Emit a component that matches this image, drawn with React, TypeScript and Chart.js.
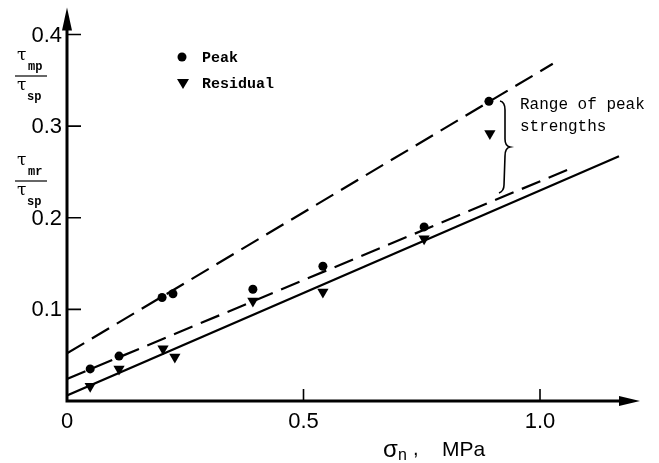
import React, { useEffect, useRef } from "react";
import { Chart, registerables } from "chart.js";
Chart.register(...registerables);

// Peak strengths (circles)
const peakX = [0.049, 0.11, 0.201, 0.224, 0.393, 0.541, 0.755, 0.892];
const peakY = [0.035, 0.049, 0.113, 0.117, 0.122, 0.147, 0.19, 0.327];
// Residual strengths (down triangles)
const resX = [0.049, 0.11, 0.203, 0.228, 0.393, 0.541, 0.755, 0.894];
const resY = [0.016, 0.035, 0.057, 0.048, 0.109, 0.119, 0.177, 0.292];
// Fitted lines (end points)
const upperDashX = [0, 1.027];
const upperDashY = [0.052, 0.368];
const midDashX = [0, 1.066];
const midDashY = [0.024, 0.254];
const solidX = [0, 1.167];
const solidY = [0.006, 0.267];
// Ticks
const xTicks = [0, 0.5, 1.0];
const xTickLabels = ["0", "0.5", "1.0"];
const yTicks = [0.1, 0.2, 0.3, 0.4];
const yTickLabels = ["0.1", "0.2", "0.3", "0.4"];
const legendLabels = ["Peak", "Residual"];
const noteLines = ["Range of peak", "strengths"];

const toPts = (xs: number[], ys: number[]) => xs.map((x, i) => ({ x, y: ys[i] }));

const decorPlugin = {
  id: "decor",
  beforeDatasetsDraw(chart: any) {
    const ctx = chart.ctx as CanvasRenderingContext2D;
    const xs = chart.scales.x;
    const ys = chart.scales.y;
    const x0 = xs.getPixelForValue(0);
    const y0 = ys.getPixelForValue(0);
    const top = chart.chartArea.top;
    const right = chart.chartArea.right;
    ctx.save();
    ctx.strokeStyle = "#000";
    ctx.fillStyle = "#000";
    // axes
    ctx.lineWidth = 3;
    ctx.beginPath();
    ctx.moveTo(x0, y0);
    ctx.lineTo(x0, top + 18);
    ctx.moveTo(x0 - 1.5, y0);
    ctx.lineTo(right - 16, y0);
    ctx.stroke();
    // arrow heads
    ctx.beginPath();
    ctx.moveTo(x0, top + 1);
    ctx.lineTo(x0 - 5, top + 24);
    ctx.lineTo(x0 + 5, top + 24);
    ctx.closePath();
    ctx.fill();
    ctx.beginPath();
    ctx.moveTo(right, y0);
    ctx.lineTo(right - 21, y0 - 5);
    ctx.lineTo(right - 21, y0 + 5);
    ctx.closePath();
    ctx.fill();
    // ticks (inward)
    ctx.lineWidth = 1.6;
    ctx.beginPath();
    yTicks.forEach((v) => {
      const py = ys.getPixelForValue(v);
      ctx.moveTo(x0, py);
      ctx.lineTo(x0 + 14, py);
    });
    xTicks.forEach((v) => {
      if (v === 0) return;
      const px = xs.getPixelForValue(v);
      ctx.moveTo(px, y0);
      ctx.lineTo(px, y0 - 12);
    });
    ctx.stroke();
    ctx.restore();
  },
  afterDraw(chart: any) {
    const ctx = chart.ctx as CanvasRenderingContext2D;
    const xs = chart.scales.x;
    const ys = chart.scales.y;
    const x0 = xs.getPixelForValue(0);
    const y0 = ys.getPixelForValue(0);
    ctx.save();
    ctx.fillStyle = "#000";
    ctx.strokeStyle = "#000";
    // tick labels
    ctx.font = "22px 'Liberation Sans', Arial, sans-serif";
    ctx.textBaseline = "middle";
    ctx.textAlign = "right";
    yTicks.forEach((v, i) => {
      ctx.fillText(yTickLabels[i], x0 - 5, ys.getPixelForValue(v) + 1);
    });
    ctx.textAlign = "center";
    xTicks.forEach((v, i) => {
      ctx.fillText(xTickLabels[i], xs.getPixelForValue(v), y0 + 21);
    });
    // x axis title: sigma_n, MPa
    ctx.textAlign = "left";
    ctx.font = "24px 'Liberation Sans', Arial, sans-serif";
    ctx.fillText("σ", 383, 450);
    ctx.font = "16px 'Liberation Sans', Arial, sans-serif";
    ctx.fillText("n", 398, 456);
    ctx.font = "20px 'Liberation Sans', Arial, sans-serif";
    ctx.fillText(",", 413, 449);
    ctx.font = "21px 'Liberation Sans', Arial, sans-serif";
    ctx.fillText("MPa", 442, 450);

    // y axis fraction labels
    const frac = (num: string, cy: number) => {
      ctx.font = "17px 'DejaVu Serif', serif";
      ctx.fillText("τ", 17, cy - 20);
      ctx.fillText("τ", 17, cy + 10);
      ctx.font = "bold 12px 'Liberation Mono', monospace";
      ctx.fillText(num, 28, cy - 9);
      ctx.fillText("sp", 27, cy + 21);
      ctx.lineWidth = 1.2;
      ctx.beginPath();
      ctx.moveTo(15, cy);
      ctx.lineTo(47, cy);
      ctx.stroke();
    };
    frac("mp", 76);
    frac("mr", 181);

    // legend
    ctx.beginPath();
    ctx.arc(182, 57, 4.5, 0, Math.PI * 2);
    ctx.fill();
    ctx.beginPath();
    ctx.moveTo(177, 79);
    ctx.lineTo(189, 79);
    ctx.lineTo(183, 89);
    ctx.closePath();
    ctx.fill();
    ctx.font = "bold 15px 'Liberation Mono', monospace";
    ctx.fillText(legendLabels[0], 202, 58);
    ctx.fillText(legendLabels[1], 202, 84);

    // annotation
    ctx.font = "16px 'Liberation Mono', monospace";
    ctx.fillText(noteLines[0], 520, 105);
    ctx.fillText(noteLines[1], 520, 127);

    // brace
    ctx.lineWidth = 1.6;
    ctx.beginPath();
    ctx.moveTo(500, 101);
    ctx.quadraticCurveTo(505, 102, 505, 110);
    ctx.lineTo(505, 139);
    ctx.quadraticCurveTo(505, 146, 510, 147);
    ctx.quadraticCurveTo(505, 148, 505, 156);
    ctx.lineTo(504, 185);
    ctx.quadraticCurveTo(504, 191, 499, 193);
    ctx.stroke();
    ctx.restore();
  },
};

export default function App() {
  const ref = useRef<HTMLCanvasElement | null>(null);
  useEffect(() => {
    if (!ref.current) return;
    const chart = new Chart(ref.current, {
      type: "scatter",
      data: {
        datasets: [
          {
            data: toPts(upperDashX, upperDashY),
            showLine: true,
            borderColor: "#000",
            borderWidth: 2.2,
            borderDash: [20, 9],
            pointRadius: 0,
          },
          {
            data: toPts(midDashX, midDashY),
            showLine: true,
            borderColor: "#000",
            borderWidth: 2.2,
            borderDash: [20, 9],
            pointRadius: 0,
          },
          {
            data: toPts(solidX, solidY),
            showLine: true,
            borderColor: "#000",
            borderWidth: 2.2,
            pointRadius: 0,
          },
          {
            data: toPts(peakX, peakY),
            pointStyle: "circle",
            pointRadius: 4.5,
            backgroundColor: "#000",
            borderColor: "#000",
            borderWidth: 0,
          },
          {
            data: toPts(resX, resY),
            pointStyle: "triangle",
            pointRotation: 180,
            pointRadius: 6.5,
            backgroundColor: "#000",
            borderColor: "#000",
            borderWidth: 0,
          },
        ],
      } as any,
      options: {
        responsive: false,
        animation: false,
        layout: { padding: { left: 67, right: 19, top: 6, bottom: 62 } },
        scales: {
          x: { type: "linear", min: 0, max: 1.2114, display: false },
          y: { type: "linear", min: 0, max: 0.4305, display: false },
        },
        plugins: { legend: { display: false }, tooltip: { enabled: false } },
      } as any,
      plugins: [decorPlugin],
    });
    return () => chart.destroy();
  }, []);
  return (
    <div style={{ position: "absolute", left: 0, top: 0, width: 659, height: 463, background: "#fff" }}>
      <canvas ref={ref} width={659} height={463} />
    </div>
  );
}
